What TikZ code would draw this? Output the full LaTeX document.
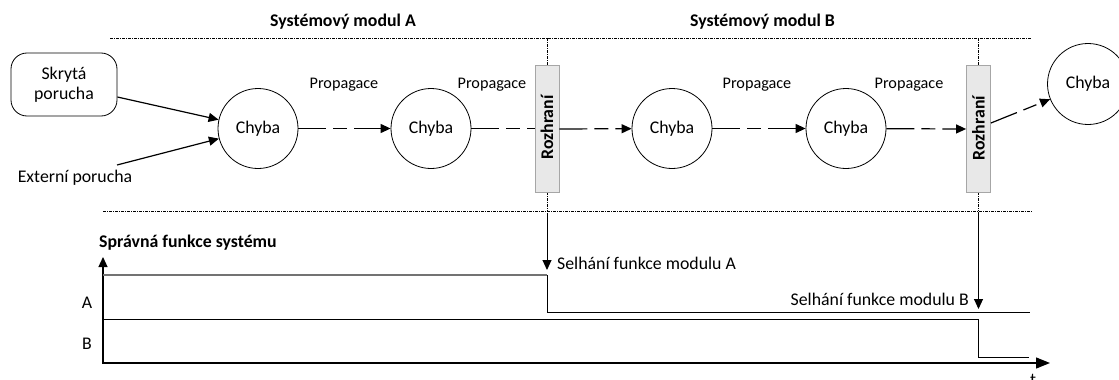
\documentclass[tikz,border=0pt]{standalone}
\usepackage{fontspec}
\setmainfont{Carlito}
\usetikzlibrary{arrows.meta,calc}
\newcommand\fsz{\fontsize{17.8}{21}\selectfont}
\newcommand\fsp{\fontsize{16.2}{19}\selectfont}
\begin{document}
\begin{tikzpicture}[x=1pt,y=-1pt,
  every node/.style={font=\fsz, inner sep=0pt},
  circ/.style={circle, draw, line width=0.8pt, minimum size=80pt},
  iface/.style={draw=black!35, fill=black!9, line width=0.8pt, minimum width=24pt, minimum height=127pt},
  fault/.style={draw, line width=0.8pt, rounded corners=16pt, minimum width=106pt, minimum height=63pt, align=center},
  tipA/.style={-{Triangle[length=10pt,width=9pt]}},
  conn/.style={tipA, line width=1.2pt},
  prop/.style={conn, dash pattern=on 28pt off 7pt on 14pt off 7pt},
  divline/.style={line width=0.7pt, dash pattern=on 3pt off 1pt on 1pt off 1pt},
  hdr/.style={font=\fsz\bfseries},
  plab/.style={font=\fsp}
]
\useasboundingbox (0,0) rectangle (1119,380);

% headers
\node[hdr] (hA) at (343,22) {Systémový modul A};
\node[hdr] (hB) at (762.5,22) {Systémový modul B};

% dash-dot separators
\coordinate (tl) at (110,38);
\coordinate (tr) at (1032,38);
\coordinate (bl) at (103,211);
\coordinate (br) at (1032,211);
\draw[divline] (tl) -- (tr);
\draw[divline] (bl) -- (br);

% nodes
\node[fault] (skryta) at (64,84.5) {Skrytá\\[-1pt]porucha};
\node (ext) at (75,178) {Externí porucha};
\coordinate (extsrc) at (117,165);

\node[circ] (c1) at (258,128.5) {Chyba};
\node[circ] (c2) at (431,128.5) {Chyba};
\node[circ] (c3) at (672,128.5) {Chyba};
\node[circ] (c4) at (846,128.5) {Chyba};
\node[circ, minimum size=81pt] (c5) at (1088,84) {Chyba};

% interface boxes with divider lines
\coordinate (d1t) at (547,38);
\coordinate (d1b) at (547,211);
\coordinate (d2t) at (978.5,38);
\coordinate (d2b) at (978.5,211);
\draw[divline] (d1t) -- (547,66);
\draw[divline] (547,192) -- (d1b);
\draw[divline] (d2t) -- (978.5,66);
\draw[divline] (978.5,192) -- (d2b);

\draw[prop, -] (c2) -- (547,128.5);
\node[iface] (box1) at (547,129) {};
\node[iface] (box2) at (978.5,129) {};
\node[rotate=90, font=\fsz\bfseries] (r1) at (547,127.5) {Rozhraní};
\node[rotate=90, font=\fsz\bfseries] (r2) at (978.5,128) {Rozhraní};

% propagation labels
\node[plab] (p1) at (344,85) {Propagace};
\node[plab] (p2) at (492,85) {Propagace};
\node[plab] (p3) at (757,85) {Propagace};
\node[plab] (p4) at (909,85) {Propagace};

% connectors
\draw[conn] ([yshift=-12.5pt]skryta.east) -- (c1);
\draw[conn] (extsrc) -- (c1);
\draw[prop] (c1) -- (c2);
\draw[prop] (box1.east) -- (c3);
\draw[prop] (c3) -- (c4);
\draw[prop] (c4) -- (box2.west);
\draw[prop] ([yshift=6pt]box2.east) -- (c5);

% bottom part: failure arrows
\coordinate (fA) at (547,270);
\coordinate (fB) at (978.5,309);
\draw[tipA, line width=1pt] (547,213) -- (fA);
\draw[tipA, line width=1pt] (978.5,212) -- (fB);
\node[anchor=west] (lA) at (557,263) {Selhání funkce modulu A};
\node[anchor=east] (lB) at (969,299) {Selhání funkce modulu B};

% axes
\coordinate (o) at (103,363);
\coordinate (yt) at (103,257);
\coordinate (xt) at (1050,363);
\draw[{Triangle[length=10pt,width=9pt]}-{Triangle[length=14pt,width=11pt]}, line width=1.2pt] (yt) -- (o) -- (xt);
\node[anchor=west, font=\fsz\bfseries] (ylab) at (99,243) {Správná funkce systému};
\node (la) at (87,303) {A};
\node (lb) at (87,344) {B};
\node[anchor=north] (tlab) at (1033,374) {t};

% function lines
\draw[black!55, line width=1.3pt] (103,275) -- (547,275);
\draw[line width=0.8pt] (547,275) -- (547,312) -- (1030,312);
\draw[line width=0.8pt] (103,319) -- (978.5,319) -- (978.5,357) -- (1029,357);
\end{tikzpicture}
\end{document}
